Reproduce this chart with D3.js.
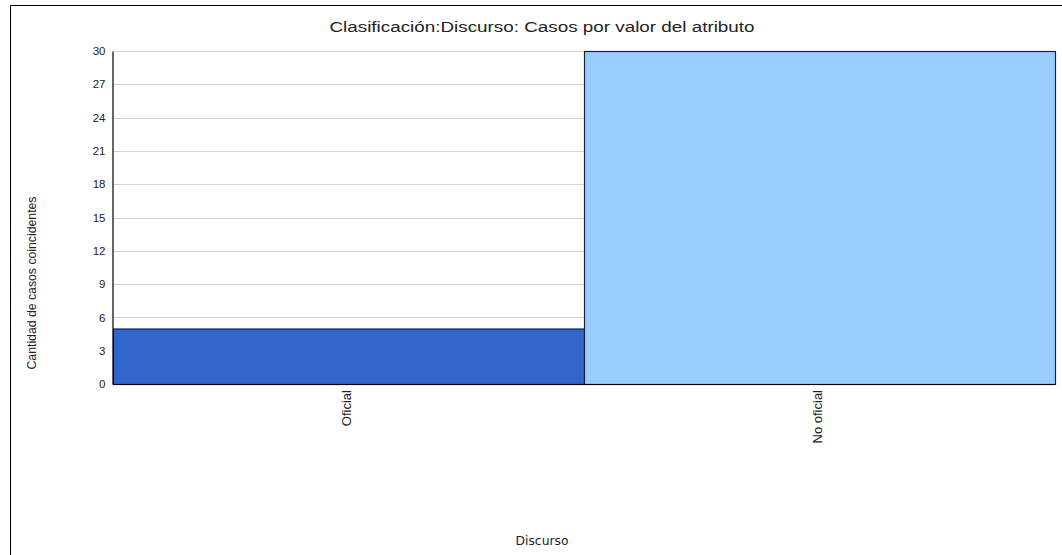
<!DOCTYPE html>
<html lang="en">
<head>
    <meta charset="UTF-8">
    <title>Clasificación:Discurso</title>
    <script src="https://d3js.org/d3.v7.min.js"></script>
    <style>
        body {
            margin: 0;
            padding: 0;
            background-color: #fff;
            font-family: "Liberation Sans", Arial, sans-serif;
        }
        svg {
            display: block;
        }
    </style>
</head>
<body>
    <svg id="chart" width="1062" height="555"></svg>
    <script>
        const categories = ["Oficial", "No oficial"];
        const counts = [5, 30];
        const barColors = ["#3366cc", "#99ccff"];
        const yTicks = [0, 3, 6, 9, 12, 15, 18, 21, 24, 27, 30];

        const svg = d3.select("#chart");
        const margin = { top: 51, right: 7, bottom: 171, left: 113 };
        const W = +svg.attr("width"), H = +svg.attr("height");

        // outer frame (left and top edges only visible)
        svg.append("path")
            .attr("d", `M10.5,${H} V5.5 H${W}`)
            .attr("fill", "none")
            .attr("stroke", "#000")
            .attr("stroke-width", 1);

        const x = d3.scaleBand()
            .domain(categories)
            .range([margin.left, W - margin.right])
            .padding(0);

        const y = d3.scaleLinear()
            .domain([0, 30])
            .range([H - margin.bottom, margin.top]);

        // grid
        svg.append("g")
            .selectAll("line")
            .data(yTicks.filter(d => d > 0))
            .join("line")
            .attr("x1", margin.left)
            .attr("x2", W - margin.right)
            .attr("y1", d => Math.round(y(d)) + 0.5)
            .attr("y2", d => Math.round(y(d)) + 0.5)
            .attr("stroke", "#d4d4d4");

        // bars
        svg.append("g")
            .selectAll("rect")
            .data(counts)
            .join("rect")
            .attr("x", (d, i) => x(categories[i]) + 0.5)
            .attr("y", d => y(d) + 0.5)
            .attr("width", x.bandwidth())
            .attr("height", d => y(0) - y(d))
            .attr("fill", (d, i) => barColors[i])
            .attr("stroke", "#1a2233")
            .attr("stroke-width", 1.2);

        // y axis
        const yAxis = svg.append("g")
            .attr("transform", `translate(${margin.left - 0.5},0)`)
            .call(d3.axisLeft(y).tickValues(yTicks).tickSize(0).tickPadding(7));
        yAxis.select(".domain").attr("stroke", "#000").attr("stroke-width", 1.2);
        yAxis.selectAll("text")
            .attr("font-family", "'Liberation Sans', Arial, sans-serif")
            .attr("font-size", 11.5)
            .attr("fill", "#222");

        // x axis line
        svg.append("line")
            .attr("x1", margin.left)
            .attr("x2", W - margin.right)
            .attr("y1", y(0) + 0.5)
            .attr("y2", y(0) + 0.5)
            .attr("stroke", "#000")
            .attr("stroke-width", 1.2);

        // x labels rotated
        svg.append("g")
            .selectAll("text")
            .data(categories)
            .join("text")
            .attr("transform", d => `translate(${x(d) + x.bandwidth() / 2 - 2},${y(0) + 6}) rotate(-90)`)
            .attr("text-anchor", "end")
            .attr("dy", "0.35em")
            .attr("font-family", "'Liberation Sans Narrow', 'Liberation Sans', Arial, sans-serif")
            .attr("font-size", 13)
            .attr("fill", "#222")
            .text(d => d);

        // title
        svg.append("text")
            .attr("x", 542)
            .attr("y", 32)
            .attr("text-anchor", "middle")
            .attr("font-size", 15.5)
            .attr("textLength", 425)
            .attr("lengthAdjust", "spacingAndGlyphs")
            .attr("fill", "#222")
            .text("Clasificación:Discurso: Casos por valor del atributo");

        // y axis title
        svg.append("text")
            .attr("transform", "translate(36,283) rotate(-90)")
            .attr("text-anchor", "middle")
            .attr("font-family", "'Liberation Sans Narrow', 'Liberation Sans', Arial, sans-serif")
            .attr("font-size", 13)
            .attr("textLength", 173)
            .attr("lengthAdjust", "spacingAndGlyphs")
            .attr("fill", "#222")
            .text("Cantidad de casos coincidentes");

        // x axis title
        svg.append("text")
            .attr("x", 542)
            .attr("y", 545)
            .attr("text-anchor", "middle")
            .attr("font-family", "'DejaVu Sans', sans-serif")
            .attr("font-size", 11.5)
            .attr("textLength", 53)
            .attr("lengthAdjust", "spacingAndGlyphs")
            .attr("fill", "#222")
            .text("Discurso");
    </script>
</body>
</html>
